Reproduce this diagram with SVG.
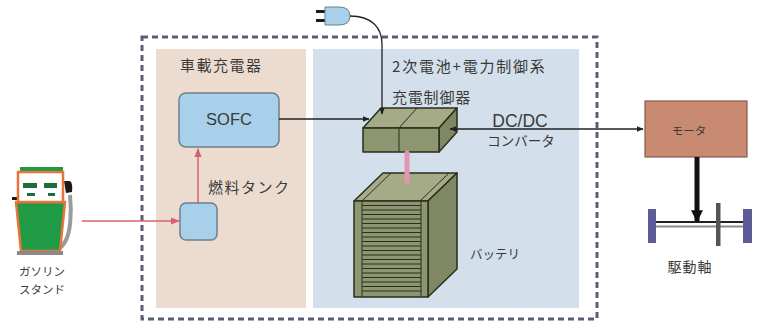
<svg xmlns="http://www.w3.org/2000/svg" width="757" height="327" viewBox="0 0 757 327">
  <style>
    .jp { font-family: "Noto Sans CJK JP", "Noto Sans", sans-serif; fill: #3a3a3a; }
    .en { font-family: "Liberation Sans", Arial, sans-serif; fill: #3a3a3a; }
    .olive-front { fill: #8d9670; stroke: #2a2e1e; stroke-width: 1.5; stroke-linejoin: round; }
    .olive-top { fill: #a4ab86; stroke: #2a2e1e; stroke-width: 1.5; stroke-linejoin: round; }
    .olive-side { fill: #7f8862; stroke: #2a2e1e; stroke-width: 1.5; stroke-linejoin: round; }
    .rib { stroke: #2a2e1e; stroke-width: 1; }
    .red { stroke: #d8606e; stroke-width: 1.5; fill: none; }
    .blk { stroke: #222; stroke-width: 1.3; fill: none; }
  </style>
  <defs>
    <marker id="ahBlack" viewBox="0 0 10 10" refX="9" refY="5" markerWidth="7" markerHeight="7" orient="auto-start-reverse" markerUnits="userSpaceOnUse">
      <path d="M0,1 L10,5 L0,9 z" fill="#222"/>
    </marker>
    <marker id="ahRed" viewBox="0 0 10 10" refX="9" refY="5" markerWidth="9" markerHeight="9" orient="auto" markerUnits="userSpaceOnUse">
      <path d="M0,1 L10,5 L0,9 z" fill="#d8606e"/>
    </marker>
    <marker id="ahThick" viewBox="0 0 10 10" refX="9" refY="5" markerWidth="12" markerHeight="12" orient="auto" markerUnits="userSpaceOnUse">
      <path d="M0,0 L10,5 L0,10 z" fill="#111"/>
    </marker>
  </defs>

  <rect width="757" height="327" fill="#ffffff"/>

  <!-- vehicle boundary and sub-system panels -->
  <g id="vehicle">
    <rect x="156" y="49" width="150" height="259" fill="#ecdcd0"/>
    <rect x="313" y="49" width="266" height="259" fill="#d3dfeb"/>
    <rect x="142" y="37" width="455" height="282" fill="none" stroke="#585e78" stroke-width="3" stroke-dasharray="6 4"/>
    <text class="jp" x="180" y="71" font-size="15" letter-spacing="1.5">車載充電器</text>
    <text class="jp" x="392" y="72" font-size="15" letter-spacing="1.8">2次電池+電力制御系</text>
  </g>

  <!-- gas station pump -->
  <g id="gas-station">
    <rect x="20" y="167" width="43" height="5" fill="#1f9a45"/>
    <path d="M70,195 C72,215 70,232 66,240 C63,246 60,249 56,250" fill="none" stroke="#9a9a9a" stroke-width="4"/>
    <path d="M64,181 L70,181 Q73,183 72,192 L66,193 z" fill="#1a1a1a"/>
    <rect x="12" y="197" width="5" height="3" fill="#1a1a1a"/>
    <path d="M16,202 L65,202 L60,251 L21,251 z" fill="#1f9a45" stroke="#e8743a" stroke-width="2.5"/>
    <rect x="18" y="172" width="45" height="30" fill="#ffffff" stroke="#e8743a" stroke-width="2.5"/>
    <rect x="23" y="183" width="14" height="5" fill="#1d6e3a"/>
    <rect x="44" y="183" width="13" height="5" fill="#1d6e3a"/>
    <rect x="27" y="193" width="8" height="3" fill="#1d6e3a"/>
    <rect x="48" y="193" width="7" height="3" fill="#1d6e3a"/>
    <rect x="17" y="251" width="46" height="4" fill="#8a8a8a"/>
    <text class="jp" x="42" y="276" font-size="11.5" text-anchor="middle">ガソリン</text>
    <text class="jp" x="42" y="294" font-size="11.5" text-anchor="middle">スタンド</text>
  </g>

  <!-- SOFC -->
  <g id="sofc">
    <rect x="179" y="93" width="100" height="54" rx="7" fill="#a9d0ea" stroke="#6d7f8d" stroke-width="1.5"/>
    <text class="en" x="229" y="125" font-size="16.5" text-anchor="middle">SOFC</text>
  </g>

  <!-- fuel tank -->
  <g id="fuel-tank">
    <rect x="180" y="203" width="37" height="37" rx="6" fill="#a9d0ea" stroke="#6d7f8d" stroke-width="1.5"/>
    <text class="jp" x="208" y="193" font-size="15" letter-spacing="1.5">燃料タンク</text>
  </g>

  <!-- charge controller / DC-DC converter -->
  <g id="controller">
    <polygon class="olive-top" points="363,128 381,108 457,108 439,128"/>
    <polygon class="olive-side" points="439,128 457,108 457,132 439,152"/>
    <rect class="olive-front" x="363" y="128" width="76" height="24"/>
    <line class="rib" x1="399" y1="128" x2="399" y2="152" stroke-width="1.5"/>
    <line class="rib" x1="399" y1="128" x2="417" y2="108" stroke-width="1.5"/>
    <text class="jp" x="392" y="103" font-size="15" letter-spacing="0.8">充電制御器</text>
    <text class="en" x="520" y="127" font-size="17.5" text-anchor="middle">DC/DC</text>
    <text class="jp" x="521" y="146" font-size="13.5" text-anchor="middle">コンバータ</text>
  </g>

  <!-- battery stack -->
  <g id="battery">
    <polygon class="olive-top" points="354,201 383,173 457,173 428,201"/>
    <line class="rib" x1="362" y1="201" x2="391" y2="173"/>
    <line class="rib" x1="420" y1="201" x2="449" y2="173"/>
    <polygon class="olive-side" points="428,201 457,173 457,269 428,297"/>
    <rect class="olive-front" x="354" y="201" width="74" height="96"/>
    <g class="rib">
      <line x1="362" y1="201" x2="362" y2="297"/>
      <line x1="421" y1="201" x2="421" y2="297"/>
      <path d="M362,205.5H421 M362,210H421 M362,214.5H421 M362,219H421 M362,223.5H421 M362,228H421 M362,232.5H421 M362,237H421 M362,241.5H421 M362,246H421 M362,250.5H421 M362,255H421 M362,259.5H421 M362,264H421 M362,268.5H421 M362,273H421 M362,277.5H421 M362,282H421 M362,286.5H421 M362,291H421"/>
    </g>
    <text class="jp" x="470" y="259" font-size="12.5">バッテリ</text>
  </g>

  <!-- motor -->
  <g id="motor">
    <rect x="645" y="101" width="102" height="56" fill="#c98a72" stroke="#8b5a45" stroke-width="1.2"/>
    <text class="jp" x="689" y="135" font-size="11.5" text-anchor="middle">モータ</text>
  </g>

  <!-- drive axle -->
  <g id="axle">
    <line x1="656" y1="222" x2="743" y2="222" stroke="#222" stroke-width="2.2"/>
    <line x1="656" y1="226.5" x2="743" y2="226.5" stroke="#8a8a8a" stroke-width="2"/>
    <rect x="716" y="203" width="4.5" height="43" fill="#555"/>
    <rect x="648" y="209" width="8" height="34" fill="#5d5c98"/>
    <rect x="743" y="209" width="9" height="34" fill="#5d5c98"/>
    <text class="jp" x="690" y="272" font-size="14" letter-spacing="1" text-anchor="middle">駆動軸</text>
  </g>

  <!-- power plug -->
  <g id="plug">
    <rect x="316" y="10" width="10" height="3" fill="#1a1a1a"/>
    <rect x="316" y="19" width="10" height="3" fill="#1a1a1a"/>
    <path d="M325,7 L339,7 Q350,7 350,16 Q350,25 339,25 L325,25 z" fill="#a9d0ea" stroke="#6d7f8d" stroke-width="1"/>
  </g>

  <!-- connectors -->
  <g id="connectors">
    <path class="blk" d="M350,16 C372,16 382,28 382,44 L382,114" marker-end="url(#ahBlack)"/>
    <line class="blk" x1="279" y1="119" x2="369" y2="119" marker-end="url(#ahBlack)"/>
    <line class="blk" x1="450" y1="129" x2="643" y2="129" marker-start="url(#ahBlack)" marker-end="url(#ahBlack)"/>
    <line x1="407" y1="153" x2="407" y2="181" stroke="#e595b2" stroke-width="5" stroke-linecap="round"/>
    <line class="red" x1="82" y1="221" x2="179" y2="221" marker-end="url(#ahRed)"/>
    <line class="red" x1="198" y1="203" x2="198" y2="149" marker-end="url(#ahRed)"/>
    <line x1="697" y1="157" x2="697" y2="221" stroke="#111" stroke-width="5" marker-end="url(#ahThick)"/>
  </g>
</svg>
